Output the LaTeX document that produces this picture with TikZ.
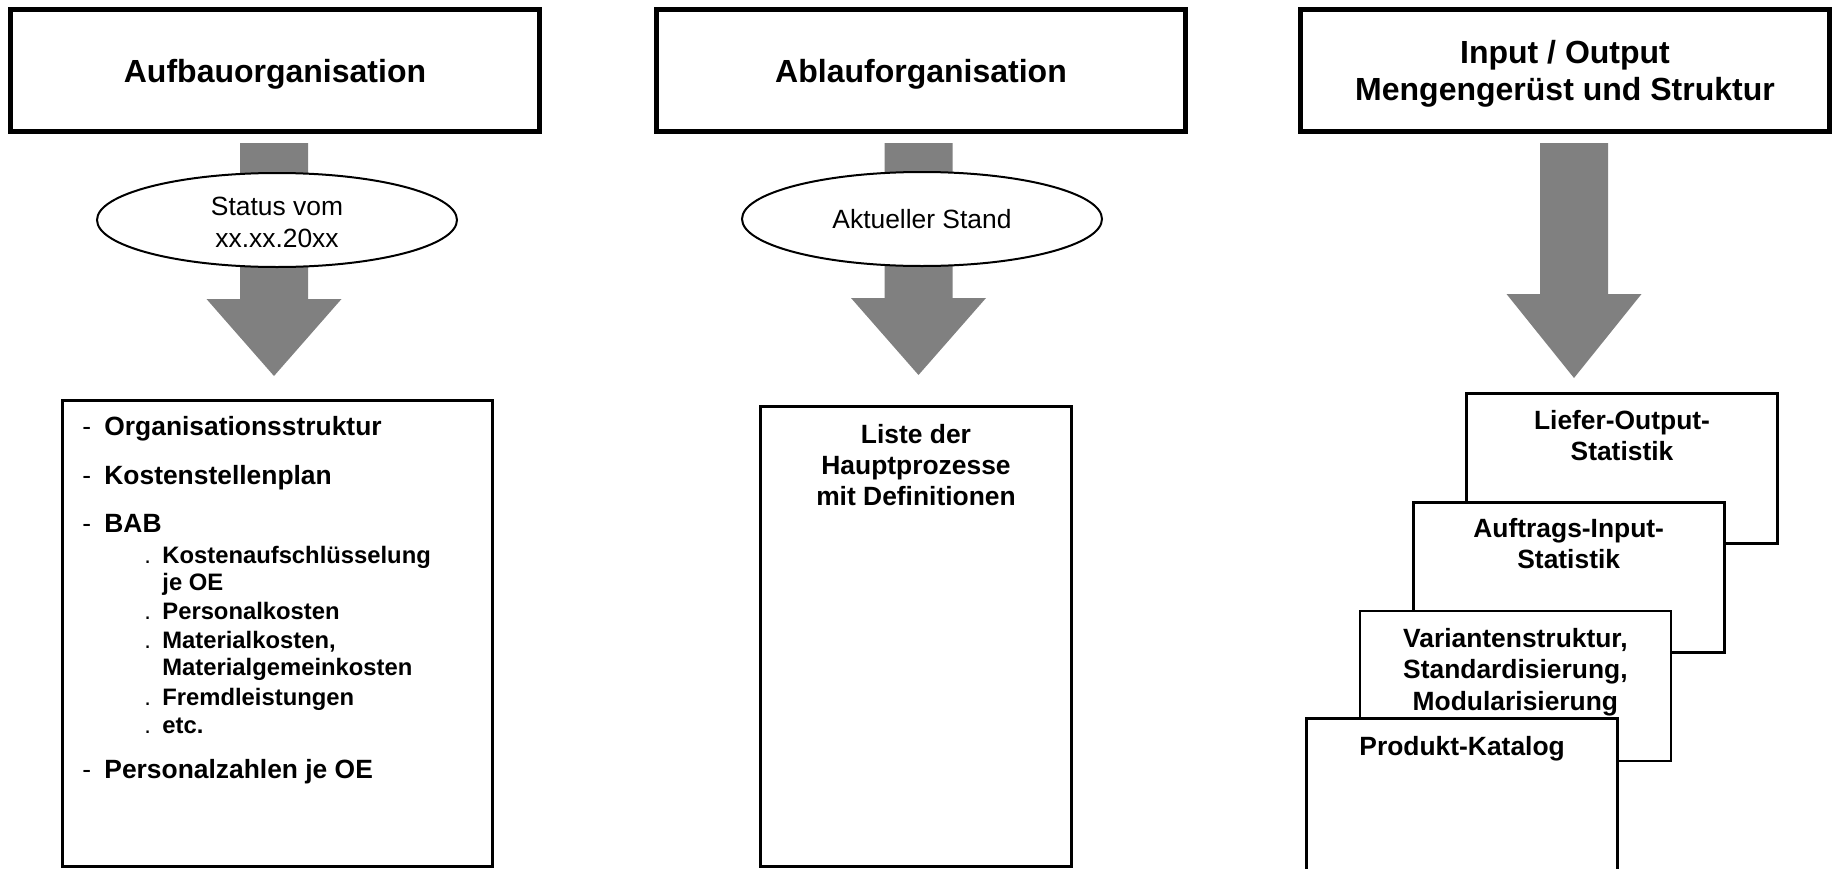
\documentclass[tikz,border=0pt]{standalone}
\usepackage{fontspec}
\setmainfont{Liberation Sans}
\usetikzlibrary{shapes.geometric,calc}
\definecolor{arrowgray}{HTML}{808080}
\newcommand\blockarr[3]{%
  \fill[arrowgray] ($(#1)+(-34,0)$) -- ($(#1)+(34,0)$) -- ($(#2)+(34,-#3)$)
    -- ($(#2)+(67.5,-#3)$) -- (#2) -- ($(#2)+(-67.5,-#3)$) -- ($(#2)+(-34,-#3)$) -- cycle;}
\begin{document}
\begin{tikzpicture}[x=0.5pt,y=-0.5pt,
  hdr/.style={draw, line width=2.5pt, fill=white, rectangle, minimum width=264.5pt,
    minimum height=61pt, inner sep=0pt, outer sep=0pt,
    font=\fontsize{16pt}{18.5pt}\selectfont\bfseries, text height=11.5pt, text depth=0pt},
  oval/.style={ellipse, draw, line width=1pt, fill=white, minimum width=180pt,
    minimum height=47pt, inner sep=0pt, outer sep=0pt,
    font=\fontsize{13.2pt}{16pt}\selectfont},
  lowbox/.style={draw, line width=1.5pt, rectangle, inner sep=0pt, outer sep=0pt},
  card/.style={draw, line width=1.4pt, fill=white, rectangle, minimum width=155.5pt,
    minimum height=75pt, inner sep=0pt, outer sep=0pt},
  bodytext/.style={inner sep=0pt, anchor=base, font=\fontsize{13.2pt}{15.75pt}\selectfont\bfseries},
  mainitem/.style={inner sep=0pt, anchor=base west, font=\fontsize{13.2pt}{15.8pt}\selectfont\bfseries},
  subitem/.style={inner sep=0pt, anchor=base west, font=\fontsize{11.9pt}{14.3pt}\selectfont\bfseries}
]
\useasboundingbox (0,0) rectangle (1832,868);
\clip (0,0) rectangle (1832,868);

% header boxes
\node[hdr] (h1) at (275,70.5) {Aufbauorganisation};
\node[hdr] (h2) at (921,70.5) {Ablauforganisation};
\node[hdr, text depth=18.5pt] (h3) at (1565,70.5)
  {\begin{tabular}[t]{@{}c@{}}Input / Output\\Mengengerüst und Struktur\end{tabular}};

% lower boxes
\node[lowbox, minimum width=215pt, minimum height=233pt] (lb1) at (277.5,633.5) {};
\node[lowbox, minimum width=155.5pt, minimum height=230pt] (lb2) at (916,636.5) {};

% stacked cards (back to front)
\node[card] (c1) at (1622,468.5) {};
\node[bodytext] (t1) at (1622,429) {\begin{tabular}[t]{@{}c@{}}Liefer-Output-\\Statistik\end{tabular}};
\node[card] (c2) at (1568.7,577.2) {};
\node[bodytext] (t2) at (1568.7,537) {\begin{tabular}[t]{@{}c@{}}Auftrags-Input-\\Statistik\end{tabular}};
\node[card] (c3) at (1515.4,685.9) {};
\node[bodytext] (t3) at (1515.4,647) {\begin{tabular}[t]{@{}c@{}}Variantenstruktur,\\Standardisierung,\\Modularisierung\end{tabular}};
\node[card, minimum height=78pt] (c4) at (1462.1,796.5) {};
\node[bodytext] (t4) at (1462.1,755) {Produkt-Katalog};

% block arrows
\coordinate (a1top) at ($(h1.south)+(-1,11.5)$);
\coordinate (a1tip) at ($(a1top |- lb1.north)+(0,-24.5)$);
\coordinate (a2top) at ($(h2.south)+(-2.5,11.5)$);
\coordinate (a2tip) at ($(a2top |- lb2.north)+(0,-31.5)$);
\coordinate (a3top) at ($(h3.south)+(9,11.5)$);
\coordinate (a3tip) at ($(a3top |- c1.north)+(0,-15.5)$);
\blockarr{a1top}{a1tip}{77}
\blockarr{a2top}{a2tip}{77}
\blockarr{a3top}{a3tip}{84}

% ellipses
\node[oval, text height=11pt, text depth=16pt] (e1) at (277,220)
  {\begin{tabular}[t]{@{}c@{}}Status vom\\xx.xx.20xx\end{tabular}};
\node[oval, text height=9.45pt, text depth=0pt] (e2) at (922,219) {Aktueller Stand};

% list in left lower box
\node[mainitem] (l1) at (82,435) {\makebox[11pt][l]{\mdseries -}Organisationsstruktur};
\node[mainitem] (l2) at (82,484) {\makebox[11pt][l]{\mdseries -}Kostenstellenplan};
\node[mainitem] (l3) at (82,532) {\makebox[11pt][l]{\mdseries -}BAB};
\node[subitem] (s1) at (144,563) {\makebox[9pt][l]{\mdseries .}Kostenaufschlüsselung};
\node[subitem] (s1b) at (162,590) {je OE};
\node[subitem] (s2) at (144,619) {\makebox[9pt][l]{\mdseries .}Personalkosten};
\node[subitem] (s3) at (144,648) {\makebox[9pt][l]{\mdseries .}Materialkosten,};
\node[subitem] (s3b) at (162,675) {Materialgemeinkosten};
\node[subitem] (s4) at (144,705) {\makebox[9pt][l]{\mdseries .}Fremdleistungen};
\node[subitem] (s5) at (144,733) {\makebox[9pt][l]{\mdseries .}etc.};
\node[mainitem] (l4) at (82,778) {\makebox[11pt][l]{\mdseries -}Personalzahlen je OE};

% text in middle lower box
\node[bodytext, font=\fontsize{13.2pt}{15.5pt}\selectfont\bfseries] (m1) at (916,443)
  {\begin{tabular}[t]{@{}c@{}}Liste der\\Hauptprozesse\\mit Definitionen\end{tabular}};
\end{tikzpicture}
\end{document}
